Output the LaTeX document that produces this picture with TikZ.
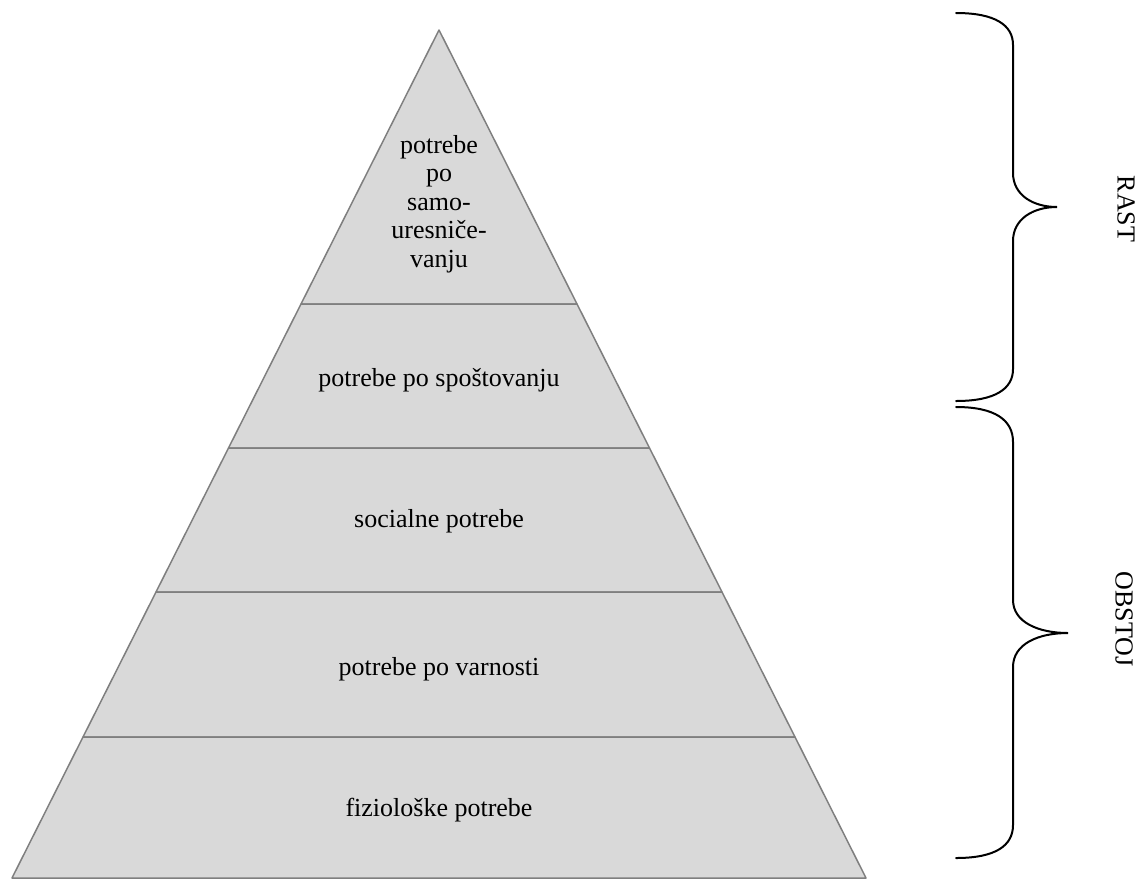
\documentclass[tikz,border=0pt]{standalone}
\usepackage{fontspec}
\setmainfont{Liberation Serif}
\definecolor{layerfill}{HTML}{D9D9D9}
\definecolor{layeredge}{HTML}{7F7F7F}
\begin{document}
\begin{tikzpicture}[x=0.5pt,y=-0.5pt,
  layer/.style={fill=layerfill,draw=layeredge,line width=0.75pt,line join=round},
  lbl/.style={inner sep=0pt,align=center,font=\fontsize{13pt}{14.25pt}\selectfont},
  brace/.style={draw=black,line width=1pt,line cap=round}]
\useasboundingbox (0,0) rectangle (1143,878);
% layers
\draw[layer] (439,30) -- (577,304) -- (301,304) -- cycle;
\draw[layer] (301,304) -- (577,304) -- (649.5,448) -- (228.5,448) -- cycle;
\draw[layer] (228.5,448) -- (649.5,448) -- (722,592) -- (156,592) -- cycle;
\draw[layer] (156,592) -- (722,592) -- (795,737) -- (83,737) -- cycle;
\draw[layer] (83,737) -- (795,737) -- (866,878) -- (12,878) -- cycle;
% labels
\node[lbl] (l1) at (439,204) {potrebe\\po\\samo-\\uresniče-\\vanju};
\node[lbl] (l2) at (439,380) {potrebe po spoštovanju};
\node[lbl] (l3) at (439,521) {socialne potrebe};
\node[lbl] (l4) at (439,669) {potrebe po varnosti};
\node[lbl] (l5) at (439,810) {fiziološke potrebe};
% braces
\draw[brace] (956,13) .. controls (995,13) and (1013,25) .. (1013,45)
  -- (1013,173) .. controls (1013,195) and (1033,207) .. (1057,207)
  .. controls (1033,207) and (1013,219) .. (1013,241)
  -- (1013,369) .. controls (1013,389) and (995,401) .. (956,401);
\draw[brace] (956,407) .. controls (995,407) and (1013,420) .. (1013,442)
  -- (1013,600) .. controls (1013,622) and (1038,633) .. (1068,633)
  .. controls (1038,633) and (1013,644) .. (1013,667)
  -- (1013,825) .. controls (1013,846) and (995,858) .. (956,858);
\node[lbl,rotate=-90] (rast) at (1126,209) {RAST};
\node[lbl,rotate=-90] (obstoj) at (1124,619) {OBSTOJ};
\end{tikzpicture}
\end{document}
